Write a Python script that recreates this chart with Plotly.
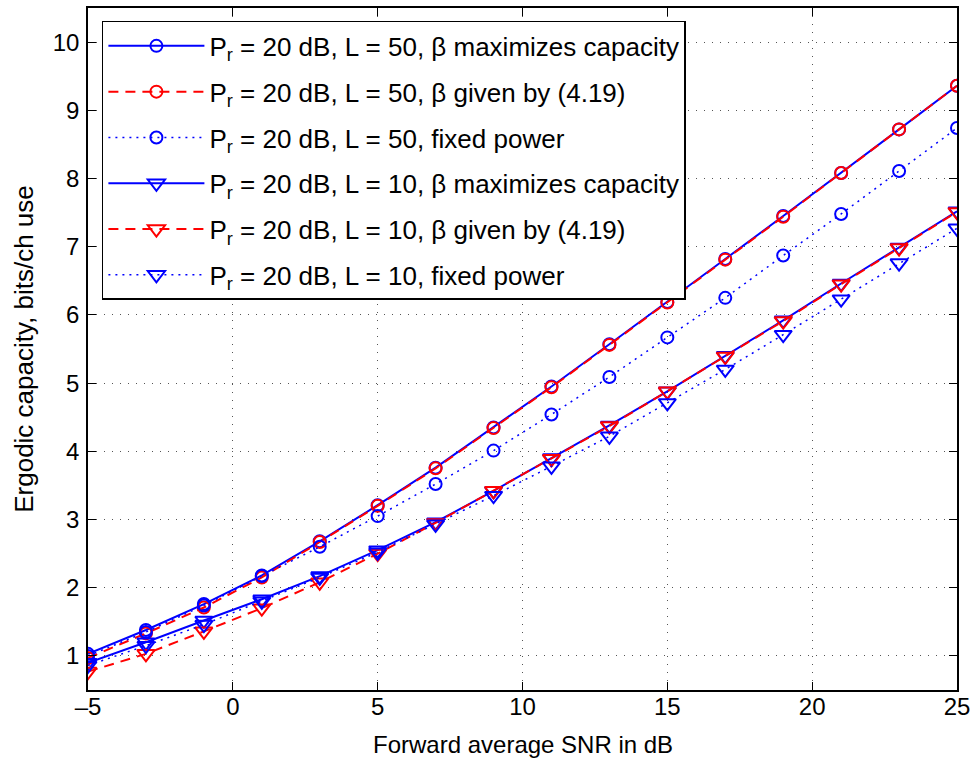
import plotly.graph_objects as go

# Forward average SNR (dB)
snr_db = [-5, -3, -1, 1, 3, 5, 7, 9, 11, 13, 15, 17, 19, 21, 23, 25]

# Ergodic capacity (bits/ch use), L = 50
cap_l50_opt = [1.03, 1.38, 1.76, 2.18, 2.68, 3.21, 3.76, 4.35, 4.95, 5.57, 6.19, 6.82, 7.45, 8.08, 8.72, 9.36]
cap_l50_eq = [0.97, 1.33, 1.71, 2.15, 2.67, 3.20, 3.75, 4.34, 4.94, 5.56, 6.18, 6.81, 7.44, 8.08, 8.72, 9.36]
cap_l50_fixed = [1.00, 1.35, 1.74, 2.17, 2.60, 3.05, 3.52, 4.01, 4.54, 5.09, 5.67, 6.25, 6.87, 7.48, 8.11, 8.74]

# Ergodic capacity (bits/ch use), L = 10
cap_l10_opt = [0.90, 1.20, 1.52, 1.83, 2.17, 2.55, 2.96, 3.42, 3.90, 4.38, 4.88, 5.40, 5.92, 6.46, 6.99, 7.52]
cap_l10_eq = [0.77, 1.03, 1.36, 1.70, 2.08, 2.50, 2.95, 3.42, 3.89, 4.37, 4.88, 5.39, 5.91, 6.45, 6.98, 7.51]
cap_l10_fixed = [0.86, 1.15, 1.46, 1.80, 2.15, 2.52, 2.93, 3.35, 3.78, 4.22, 4.71, 5.20, 5.71, 6.23, 6.76, 7.27]

SUB_R = "P<sub>r</sub>"
legend_names = [
    SUB_R + " = 20 dB, L = 50, β maximizes capacity",
    SUB_R + " = 20 dB, L = 50, β given by (4.19)",
    SUB_R + " = 20 dB, L = 50, fixed power",
    SUB_R + " = 20 dB, L = 10, β maximizes capacity",
    SUB_R + " = 20 dB, L = 10, β given by (4.19)",
    SUB_R + " = 20 dB, L = 10, fixed power",
]

x_label = "Forward average SNR in dB"
y_label = "Ergodic capacity, bits/ch use"

BLUE = "#0000FF"
RED = "#FF0000"
FONT = "Liberation Sans, Arial, Helvetica, sans-serif"

series = [
    (cap_l50_opt, BLUE, "solid", 2, "circle-open", 12),
    (cap_l50_eq, RED, "10px,7px", 2, "circle-open", 12),
    (cap_l50_fixed, BLUE, "2px,5px", 1.5, "circle-open", 12),
    (cap_l10_opt, BLUE, "solid", 2, "triangle-down-open", 15),
    (cap_l10_eq, RED, "10px,7px", 2, "triangle-down-open", 15),
    (cap_l10_fixed, BLUE, "2px,5px", 1.5, "triangle-down-open", 15),
]

fig = go.Figure()
for i, (vals, color, dash, lw, sym, msize) in enumerate(series):
    fig.add_trace(go.Scatter(
        x=snr_db, y=vals, mode="lines+markers", name=legend_names[i],
        legendgroup=f"g{i}",
        line=dict(color=color, width=lw, dash=dash),
        marker=dict(symbol=sym, size=msize, color=color, line=dict(color=color, width=2)),
    ))

axis_common = dict(
    showline=True, linecolor="black", linewidth=1.5, mirror="allticks",
    ticks="inside", ticklen=8, tickwidth=1, tickcolor="black",
    showgrid=True, gridcolor="#555555", gridwidth=1, griddash="1px,7px",
    zeroline=False, tickfont=dict(family=FONT, size=24, color="black"),
)

fig.update_xaxes(range=[-5, 25], tickmode="array", tickvals=[-5, 0, 5, 10, 15, 20, 25],
                 ticktext=["–5", "0", "5", "10", "15", "20", "25"],
                 ticklabelstandoff=-6, **axis_common)
fig.update_yaxes(range=[0.5, 10.5], tickmode="array", tickvals=list(range(1, 11)),
                 ticklabelstandoff=2,
                 title_text=y_label, title_standoff=12,
                 title_font=dict(family=FONT, size=26, color="black"), **axis_common)

# x-axis title placed under the tick labels
fig.add_annotation(
    text=x_label, xref="paper", yref="paper", x=0.5, y=-0.080,
    xanchor="center", yanchor="middle", showarrow=False,
    font=dict(family=FONT, size=24, color="black"),
)

fig.update_layout(
    width=976, height=762,
    margin=dict(l=88, r=18, t=6, b=72),
    paper_bgcolor="white", plot_bgcolor="white",
    font=dict(family=FONT, size=24, color="black"),
    legend=dict(
        x=0.016, y=0.981, xanchor="left", yanchor="top",
        bgcolor="white", bordercolor="black", borderwidth=1.5,
        font=dict(family=FONT, size=26, color="black"),
        tracegroupgap=9, itemwidth=96,
    ),
    showlegend=True,
)

fig.write_html("out.html")
